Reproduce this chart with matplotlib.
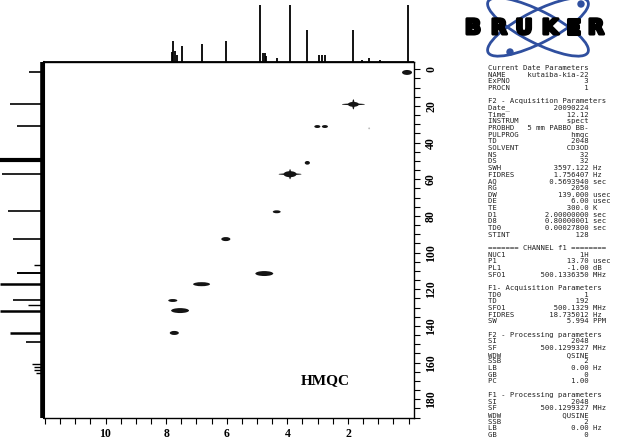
import numpy as np
import matplotlib.pyplot as plt
import matplotlib.patheffects as pe
from matplotlib.patches import Ellipse, Circle
from matplotlib.ticker import MultipleLocator

W, H = 617, 447

# 1H projection (top trace): shift (ppm) and relative intensity
h_ppm = [7.82, 7.77, 7.71, 7.65, 7.49, 6.83, 6.03, 4.89, 4.80, 4.74, 4.70, 4.35,
         3.91, 3.34, 2.95, 2.86, 2.77, 1.82, 1.55, 1.30, 0.94, 0.01]
h_int = [0.18, 0.37, 0.20, 0.12, 0.28, 0.32, 0.37, 1.00, 0.15, 0.15, 0.10, 0.07,
         1.00, 0.57, 0.12, 0.12, 0.12, 0.57, 0.03, 0.07, 0.03, 1.00]

# 13C projection (left trace): shift (ppm) and relative intensity
c_ppm = [1.7, 19.1, 31.1, 49.5, 57.2, 77.2, 92.6, 106.8, 111.2, 117.0, 125.8,
         128.3, 131.6, 143.6, 148.7, 160.5, 162.3, 164.1, 165.8]
c_int = [0.30, 0.77, 0.59, 1.00, 0.95, 0.80, 0.68, 0.20, 0.60, 1.00, 0.70,
         0.34, 1.00, 0.75, 0.39, 0.23, 0.20, 0.18, 0.14]
c_lw = [1.2, 1.2, 1.2, 3.0, 1.2, 1.2, 1.2, 1.0, 1.4, 1.8, 1.2,
        1.0, 1.8, 1.8, 1.2, 1.0, 1.0, 1.0, 1.0]

# HMQC cross peaks: f2 (1H ppm), f1 (13C ppm), widths in ppm
cp_f2 = [0.05, 1.82, 3.01, 2.76, 3.34, 3.91, 4.35, 6.03, 4.76, 6.83, 7.78, 7.54, 7.73]
cp_f1 = [1.7, 19.1, 31.2, 31.2, 51.0, 57.2, 77.7, 92.6, 111.4, 117.2, 126.1, 131.6, 143.8]
cp_w = [0.33, 0.36, 0.20, 0.20, 0.17, 0.43, 0.26, 0.30, 0.59, 0.56, 0.30, 0.59, 0.30]
cp_h = [2.7, 2.7, 1.6, 1.6, 2.0, 3.3, 1.6, 2.2, 2.7, 2.2, 1.6, 2.7, 2.2]

# weak horizontal tails on the two strongest aliphatic peaks
tail_f2 = [1.82, 3.91]
tail_f1 = [19.1, 57.2]
tail_w = [0.76, 0.76]

x_ticks = [10, 8, 6, 4, 2]
y_ticks = [0, 20, 40, 60, 80, 100, 120, 140, 160, 180]

params = [
    ('Current Date Parameters',),
    ('NAME', 'kutaiba-kia-22', ''),
    ('ExPNO', '3', ''),
    ('PROCN', '1', ''),
    None,
    ('F2 - Acquisition Parameters',),
    ('Date_', '20090224', ''),
    ('Time', '12.12', ''),
    ('INSTRUM', 'spect', ''),
    ('PROBHD', '5 mm PABBO BB-', ''),
    ('PULPROG', 'hmqc', ''),
    ('TD', '2048', ''),
    ('SOLVENT', 'CD3OD', ''),
    ('NS', '32', ''),
    ('DS', '32', ''),
    ('SWH', '3597.122', 'Hz'),
    ('FIDRES', '1.756407', 'Hz'),
    ('AQ', '0.5693940', 'sec'),
    ('RG', '2050', ''),
    ('DW', '139.000', 'usec'),
    ('DE', '6.00', 'usec'),
    ('TE', '300.0', 'K'),
    ('D1', '2.00000000', 'sec'),
    ('D8', '0.80000001', 'sec'),
    ('TD0', '0.00027800', 'sec'),
    ('STINT', '128', ''),
    None,
    ('======= CHANNEL f1 ========',),
    ('NUC1', '1H', ''),
    ('P1', '13.70', 'usec'),
    ('PL1', '-1.00', 'dB'),
    ('SFO1', '500.1336350', 'MHz'),
    None,
    ('F1- Acquisition Parameters',),
    ('TD0', '1', ''),
    ('TD', '192', ''),
    ('SFO1', '500.1329', 'MHz'),
    ('FIDRES', '18.735012', 'Hz'),
    ('SW', '5.994', 'PPM'),
    None,
    ('F2 - Processing parameters',),
    ('SI', '2048', ''),
    ('SF', '500.1299327', 'MHz'),
    ('WDW', 'QSINE', ''),
    ('SSB', '2', ''),
    ('LB', '0.00', 'Hz'),
    ('GB', '0', ''),
    ('PC', '1.00', ''),
    None,
    ('F1 - Processing parameters',),
    ('SI', '2048', ''),
    ('SF', '500.1299327', 'MHz'),
    ('WDW', 'QUSINE', ''),
    ('SSB', '2', ''),
    ('LB', '0.00', 'Hz'),
    ('GB', '0', ''),
]

XLIM = (12.03, -0.18)
YLIM = (190.2, -4.0)


def px_axes(fig, x0, y0, x1, y1):
    return fig.add_axes([x0 / W, 1 - y1 / H, (x1 - x0) / W, (y1 - y0) / H])


fig = plt.figure(figsize=(W / 100, H / 100), dpi=100)

# overlay in pixel units for logo and parameter list
ov = px_axes(fig, 0, 0, W, H)
ov.set_xlim(0, W)
ov.set_ylim(H, 0)
ov.axis('off')

# main 2D map
ax = px_axes(fig, 44, 62, 414, 418)
ax.set_xlim(*XLIM)
ax.set_ylim(*YLIM)
for f2, f1, w, h in zip(cp_f2, cp_f1, cp_w, cp_h):
    ax.add_patch(Ellipse((f2, f1), w, h, facecolor='#141414', edgecolor='none'))
for f2, f1, w in zip(tail_f2, tail_f1, tail_w):
    ax.add_patch(Ellipse((f2, f1), w, 0.9, facecolor='#141414', edgecolor='none'))
    ax.add_patch(Ellipse((f2, f1), 0.07, 5.5, facecolor='#141414', edgecolor='none'))
ax.add_patch(Ellipse((1.30, 32.2), 0.06, 1.0, facecolor='#bbbbbb', edgecolor='none'))

ax.text(0.759, 0.104, 'HMQC', transform=ax.transAxes, ha='center', va='center',
        fontsize=11, fontweight='bold', family='Liberation Serif')

for s in ax.spines.values():
    s.set_linewidth(1.0)
ax.spines['left'].set_linewidth(1.5)

ax.set_xticks(x_ticks, labels=[str(t) for t in x_ticks], fontsize=8.5,
              family='Liberation Serif', fontweight='bold')
ax.xaxis.set_minor_locator(MultipleLocator(0.5))
ax.yaxis.tick_right()
ax.set_yticks(y_ticks, labels=[str(t) for t in y_ticks], fontsize=8.5,
              family='Liberation Serif', fontweight='bold', rotation=90, va='center')
ax.yaxis.set_minor_locator(MultipleLocator(5))
ax.tick_params(axis='both', which='both', direction='out', length=4, width=0.8)
ax.tick_params(axis='x', pad=3)
ax.tick_params(axis='y', pad=4)

# top 1H projection
axt = px_axes(fig, 44, 2, 414, 62)
axt.set_xlim(*XLIM)
axt.set_ylim(0, 60 / 57)
axt.vlines(h_ppm, 0, h_int, color='black', lw=1.3)
axt.hlines(0, XLIM[0], XLIM[1], color='black', lw=1.3, clip_on=False)
axt.axis('off')

# left 13C projection
axl = px_axes(fig, 0, 62, 44, 418)
axl.set_ylim(*YLIM)
axl.set_xlim(1.0, -0.05)
axl.hlines(c_ppm, 0, c_int, color='black', lw=c_lw)
axl.vlines(0, YLIM[0], YLIM[1], color='black', lw=2.6, clip_on=False)
axl.axis('off')

# Bruker logo
blue = '#2f4f9f'
for ang in (27, -27):
    ov.add_patch(Ellipse((538, 27), 112, 32, angle=ang, fill=False,
                         edgecolor=blue, lw=2.0, zorder=2))
ov.add_patch(Circle((510, 52), 3, color=blue, zorder=2))
ov.add_patch(Circle((581, 4), 3, color=blue, zorder=2))
for ch, xc in zip('BRUKER', [473, 499, 524, 550, 573.5, 596]):
    ov.text(xc, 28, ch, ha='center', va='center', fontsize=15, fontweight='bold',
            family='DejaVu Sans', color='black', zorder=3,
            path_effects=[pe.withStroke(linewidth=2.2, foreground='black')])

# parameter listing
y0, dy = 68, 6.67
for i, row in enumerate(params):
    if row is None:
        continue
    if len(row) == 1:
        line = row[0]
    else:
        name, val, unit = row
        line = f"{name:<8}{val:>15} {unit}".rstrip()
    ov.text(488, y0 + i * dy, line, ha='left', va='center', fontsize=5.2,
            family='DejaVu Sans Mono', color='#222222')

fig.savefig('out.png', dpi=100)
